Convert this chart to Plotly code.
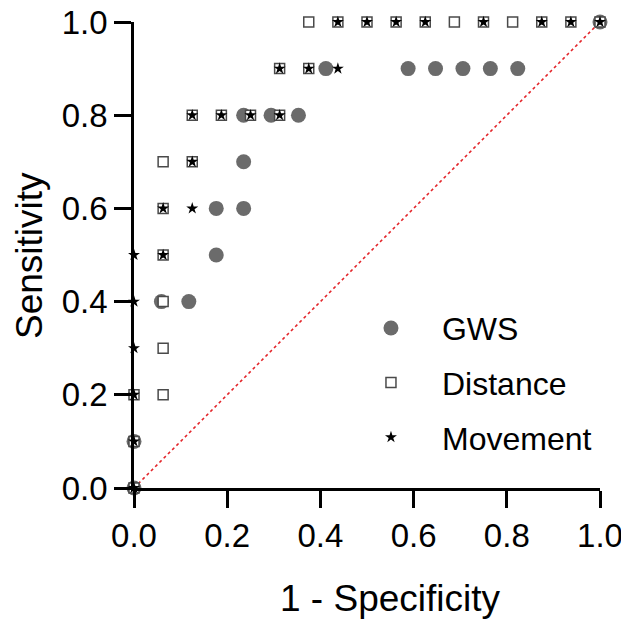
import plotly.graph_objects as go

# GWS (x in steps of 1/17)
gws_x = [0, 0, 1/17, 2/17, 3/17, 3/17, 4/17, 4/17, 4/17, 5/17, 6/17, 7/17,
         10/17, 11/17, 12/17, 13/17, 14/17, 1]
gws_y = [0, 0.1, 0.4, 0.4, 0.5, 0.6, 0.6, 0.7, 0.8, 0.8, 0.8, 0.9,
         0.9, 0.9, 0.9, 0.9, 0.9, 1.0]

# Distance (x in steps of 1/16)
dist_x = [0, 0, 0, 0.0625, 0.0625, 0.0625, 0.0625, 0.0625, 0.0625, 0.125, 0.125,
          0.1875, 0.25, 0.3125, 0.3125, 0.375, 0.375, 0.4375, 0.5, 0.5625, 0.625,
          0.6875, 0.75, 0.8125, 0.875, 0.9375, 1.0]
dist_y = [0, 0.1, 0.2, 0.2, 0.3, 0.4, 0.5, 0.6, 0.7, 0.7, 0.8,
          0.8, 0.8, 0.8, 0.9, 0.9, 1.0, 1.0, 1.0, 1.0, 1.0,
          1.0, 1.0, 1.0, 1.0, 1.0, 1.0]

# Movement (x in steps of 1/16)
move_x = [0, 0, 0, 0, 0, 0, 0.0625, 0.0625, 0.125, 0.125, 0.125, 0.1875, 0.25,
          0.3125, 0.3125, 0.375, 0.4375, 0.4375, 0.5, 0.5625, 0.625, 0.75,
          0.875, 0.9375, 1.0]
move_y = [0, 0.1, 0.2, 0.3, 0.4, 0.5, 0.5, 0.6, 0.6, 0.7, 0.8, 0.8, 0.8,
          0.8, 0.9, 0.9, 0.9, 1.0, 1.0, 1.0, 1.0, 1.0,
          1.0, 1.0, 1.0]

ref_x = [0, 1]
ref_y = [0, 1]
tick_vals = [0, 0.2, 0.4, 0.6, 0.8, 1.0]

FONT = "Liberation Sans, Arial, sans-serif"

# page body has an 8px default margin; size figure to fit inside the window
OFF = 8
W, H = 629 - OFF, 621 - OFF
L, R, T, B = 134 - OFF, 29, 22 - OFF, 133
pw, ph = W - L - R, H - T - B

fig = go.Figure()
fig.add_trace(go.Scatter(x=ref_x, y=ref_y, mode="lines", showlegend=False,
                         line=dict(color="#e3262b", width=1.6, dash="dot"),
                         hoverinfo="skip"))
fig.add_trace(go.Scatter(x=gws_x, y=gws_y, mode="markers", name="GWS",
                         legendgroup="a",
                         marker=dict(symbol="circle", size=15, color="#6b6b6b",
                                     line=dict(width=0)), cliponaxis=False))
fig.add_trace(go.Scatter(x=dist_x, y=dist_y, mode="markers", name="Distance",
                         legendgroup="b",
                         marker=dict(symbol="square", size=10, color="white",
                                     line=dict(color="#4a4a4a", width=1.5)),
                         cliponaxis=False))
fig.add_trace(go.Scatter(x=move_x, y=move_y, mode="markers", name="Movement",
                         legendgroup="c",
                         marker=dict(symbol="star", size=9, color="black",
                                     line=dict(width=0)), cliponaxis=False))

axis_common = dict(range=[0, 1], tickvals=tick_vals, tickformat=".1f",
                   showline=True, linecolor="black", linewidth=2.5,
                   ticks="outside", ticklen=17, tickwidth=2.5, tickcolor="black",
                   showgrid=False, zeroline=False, automargin=False,
                   ticklabeloverflow="allow",
                   tickfont=dict(family=FONT, size=33, color="black"))

fig.update_layout(
    width=W, height=H,
    margin=dict(l=L, r=R, t=T, b=B, pad=0),
    paper_bgcolor="white", plot_bgcolor="white",
    xaxis=dict(**axis_common),
    yaxis=dict(**axis_common),
    showlegend=True,
    legend=dict(x=0.442, y=0.402, xanchor="left", yanchor="top",
                font=dict(family=FONT, size=32, color="black"),
                itemwidth=92, tracegroupgap=10, bgcolor="rgba(0,0,0,0)",
                itemsizing="trace"),
)


def px_x(p):
    return (p - OFF - L) / pw


def px_y(p):
    return (H - B - (p - OFF)) / ph


fig.add_annotation(text="1 - Specificity", x=px_x(390), y=px_y(598),
                   xref="paper", yref="paper", showarrow=False,
                   xanchor="center", yanchor="middle",
                   font=dict(family=FONT, size=37, color="black"))
fig.add_annotation(text="Sensitivity", x=px_x(30), y=px_y(256),
                   xref="paper", yref="paper", showarrow=False, textangle=-90,
                   xanchor="center", yanchor="middle",
                   font=dict(family=FONT, size=37, color="black"))

fig.write_html("out.html")
